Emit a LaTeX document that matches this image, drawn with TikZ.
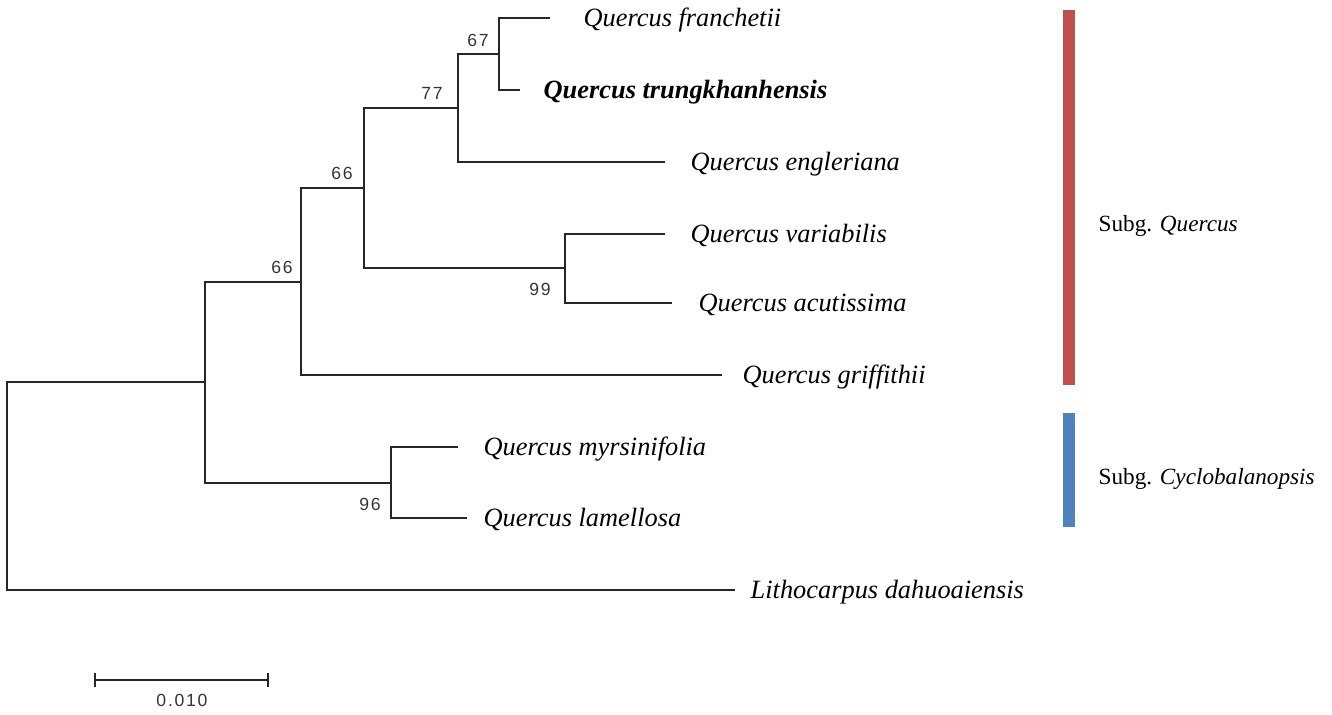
\documentclass[tikz,border=0pt]{standalone}
\usepackage{fontspec}
\setmainfont{Liberation Serif}
\newfontfamily\bsfont[LetterSpace=10]{Liberation Sans}
\definecolor{quercusred}{HTML}{C0504D}
\definecolor{cyclblue}{HTML}{4F81BD}

\begin{document}
\begin{tikzpicture}[x=0.01cm,y=-0.01cm,
    taxon/.style = {anchor=base west, inner sep=0pt, font=\fontsize{7.5}{9}\selectfont\itshape},
    subg/.style = {anchor=base west, inner sep=0pt, font=\fontsize{6.6}{8}\selectfont},
    boot/.style = {inner sep=0pt, text=black!80, font=\bsfont\fontsize{5}{6}\selectfont},
    branch/.style = {line width=0.45pt, black!85}]
    \useasboundingbox (0,0) rectangle (1332,714);
    % tips
    \coordinate (t1) at (550,18);
    \coordinate (t2) at (520,90);
    \coordinate (t3) at (665,162);
    \coordinate (t4) at (665,234);
    \coordinate (t5) at (672,303);
    \coordinate (t6) at (722,375);
    \coordinate (t7) at (458,447);
    \coordinate (t8) at (467,518);
    \coordinate (t9) at (735,590);
    % inner nodes
    \coordinate (n67) at (499,54);
    \coordinate (n77) at (458,108);
    \coordinate (n99) at (565,268);
    \coordinate (n66a) at (364,188);
    \coordinate (n66b) at (301,282);
    \coordinate (n96) at (391,483);
    \coordinate (n0) at (205,382);
    \coordinate (root) at (7,486);
    \node[taxon] (l1) at (583,26) {Quercus franchetii};
    \node[taxon] (l2) at (543,98) {\bfseries Quercus trungkhanhensis};
    \node[taxon] (l3) at (690,170) {Quercus engleriana};
    \node[taxon] (l4) at (690,242) {Quercus variabilis};
    \node[taxon] (l5) at (698,311) {Quercus acutissima};
    \node[taxon] (l6) at (742,383) {Quercus griffithii};
    \node[taxon] (l7) at (483,455) {Quercus myrsinifolia};
    \node[taxon] (l8) at (483,526) {Quercus lamellosa};
    \node[taxon] (l9) at (750,598) {Lithocarpus dahuoaiensis};
    \draw[branch] (n67) |- (t1);
    \draw[branch] (n67) |- (t2);
    \draw[branch] (n77) |- (n67);
    \draw[branch] (n77) |- (t3);
    \draw[branch] (n99) |- (t4);
    \draw[branch] (n99) |- (t5);
    \draw[branch] (n66a) |- (n77);
    \draw[branch] (n66a) |- (n99);
    \draw[branch] (n66b) |- (n66a);
    \draw[branch] (n66b) |- (t6);
    \draw[branch] (n96) |- (t7);
    \draw[branch] (n96) |- (t8);
    \draw[branch] (n0) |- (n66b);
    \draw[branch] (n0) |- (n96);
    \draw[branch] (root) |- (n0);
    \draw[branch] (root) |- (t9);
    \node[boot] (b67) at (478,40) {67};
    \node[boot] (b77) at (432,93) {77};
    \node[boot] (b66a) at (342,173) {66};
    \node[boot] (b66b) at (282,267) {66};
    \node[boot] (b99) at (540,289) {99};
    \node[boot] (b96) at (370,504) {96};
    % subgenera
    \fill[quercusred] (1063,10) rectangle (1075,385);
    \fill[cyclblue] (1063,413) rectangle (1075,527);
    \node[subg] (s1) at (1098,231) {Subg. \textit{Quercus}};
    \node[subg] (s2) at (1098,484) {Subg. \textit{Cyclobalanopsis}};
    % scale
    \coordinate (sb1) at (95,680);
    \coordinate (sb2) at (268,680);
    \draw[branch] (sb1) -- (sb2);
    \draw[branch] ([shift={(0,-7)}]sb1) -- ([shift={(0,7)}]sb1);
    \draw[branch] ([shift={(0,-7)}]sb2) -- ([shift={(0,7)}]sb2);
    \node[boot] (sbl) at (182,700) {0.010};
    %\draw[branch] (root) -- ++(-5,0);
\end{tikzpicture}
\end{document}
